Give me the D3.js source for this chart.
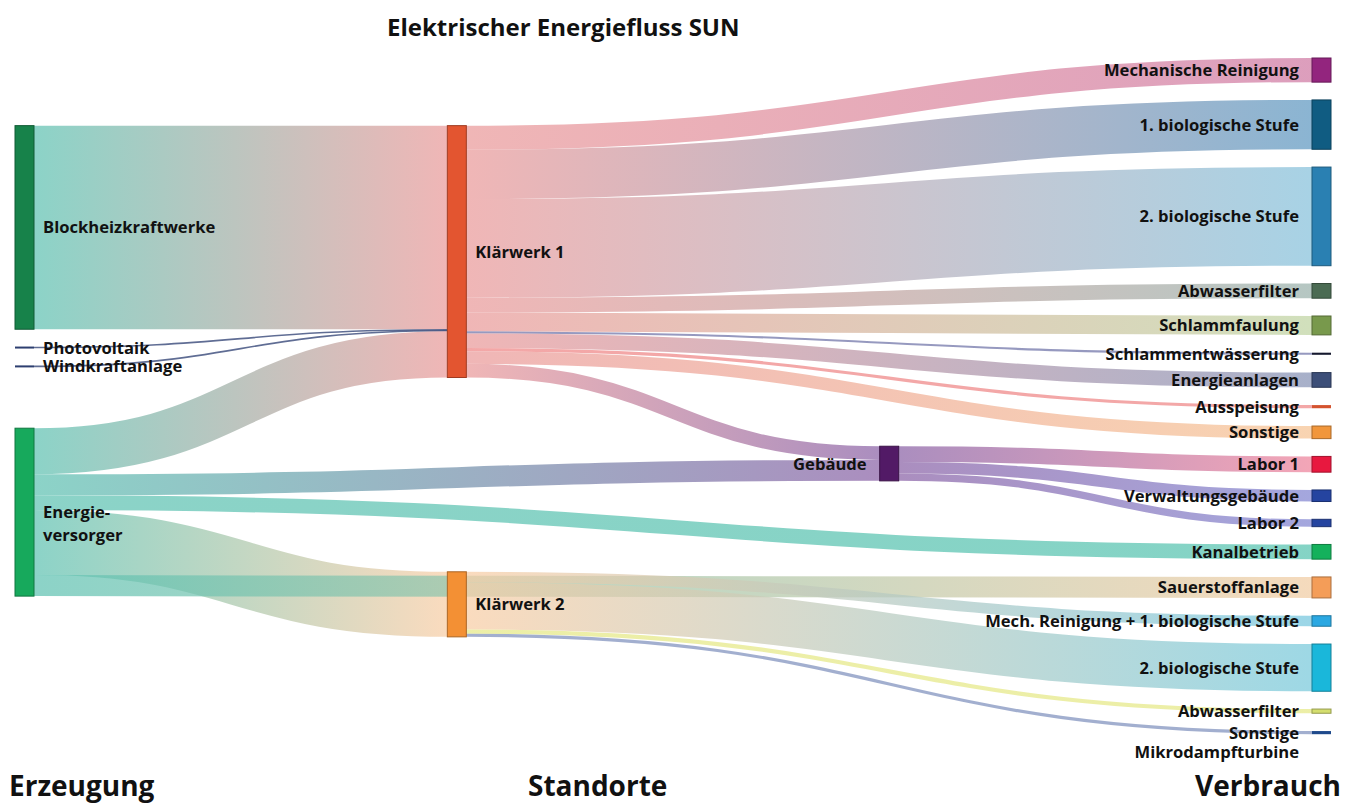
<!DOCTYPE html>
<html>
<head>
<meta charset="utf-8">
<script src="https://cdn.jsdelivr.net/npm/d3@7"></script>
<style>
    body { margin: 0; background: #fff; }
    svg { display: block; font-family: "Open Sans", "Noto Sans", sans-serif; }
    .label { font-size: 16.6px; font-weight: 700; fill: #111; }
    .title { font-size: 24px; font-weight: 700; fill: #111; }
    .coltitle { font-size: 28px; font-weight: 700; fill: #111; }
</style>
</head>
<body>
<svg id="chart"></svg>
<script>
// nodes, listed column by column from top to bottom
const nodeIds = ["bhkw", "pv", "wind", "ev",
    "kw1", "kw2",
    "geb",
    "mech1", "bio1_1", "bio2_1", "abw1", "schlammf", "schlammentw", "energ", "aussp", "sonst1",
    "labor1", "verw", "labor2", "kanal", "sauer",
    "mechbio2", "bio2_2", "abw2", "sonst2", "mikro"];

const nodeLabels = ["Blockheizkraftwerke", "Photovoltaik", "Windkraftanlage", "Energie-\nversorger",
    "Klärwerk 1", "Klärwerk 2",
    "Gebäude",
    "Mechanische Reinigung", "1. biologische Stufe", "2. biologische Stufe", "Abwasserfilter", "Schlammfaulung",
    "Schlammentwässerung", "Energieanlagen", "Ausspeisung", "Sonstige",
    "Labor 1", "Verwaltungsgebäude", "Labor 2", "Kanalbetrieb", "Sauerstoffanlage",
    "Mech. Reinigung + 1. biologische Stufe", "2. biologische Stufe", "Abwasserfilter", "Sonstige", "Mikrodampfturbine"];

// flows (source, target, value) - the order is the stacking order at the nodes
const linkSources = ["bhkw", "pv", "wind", "ev",
    "kw1", "kw1", "kw1", "kw1", "kw1", "kw1", "kw1", "kw1", "kw1", "kw1",
    "ev", "ev", "ev", "ev",
    "geb", "geb", "geb",
    "kw2", "kw2", "kw2", "kw2"];
const linkTargets = ["kw1", "kw1", "kw1", "kw1",
    "mech1", "bio1_1", "bio2_1", "abw1", "schlammf", "schlammentw", "energ", "aussp", "sonst1", "geb",
    "geb", "kanal", "kw2", "sauer",
    "labor1", "verw", "labor2",
    "mechbio2", "bio2_2", "abw2", "sonst2"];
const linkValues = [194, 1, 1, 44,
    23, 47, 94, 14, 18, 2, 14, 3, 12, 13,
    20, 14, 62, 20,
    15, 11, 7,
    10, 45, 4, 3];

const columnTitles = ["Erzeugung", "Standorte", "Verbrauch"];
const chartTitle = "Elektrischer Energiefluss SUN";

// styles
const nodeFill = {
    bhkw: "#17824a", pv: "#2d3f70", wind: "#2d3f70", ev: "#17a95c",
    kw1: "#e35530", kw2: "#f39034", geb: "#521a66",
    mech1: "#93257e", bio1_1: "#105c82", bio2_1: "#2a80b2", abw1: "#4b6b53", schlammf: "#78994c",
    schlammentw: "#15192e", energ: "#3c4e78", aussp: "#d4532f", sonst1: "#f1963b",
    labor1: "#e8183f", verw: "#2544a0", labor2: "#2544a0", kanal: "#14b15c", sauer: "#f49d58",
    mechbio2: "#2ba8e2", bio2_2: "#1ab7da", abw2: "#d4de6e", sonst2: "#1f4a8c", mikro: "none"
};
const linkTint = {
    bhkw: "#5fc2b2", pv: "#2a3c70", wind: "#2a3c70", ev: "#5fc2b2",
    kw1: "#ea9a9a", kw2: "#f8cda5", geb: "#8a62a6",
    mech1: "#cf79a3", bio1_1: "#5e98c1", bio2_1: "#86c1db", abw1: "#99b1ab", schlammf: "#bfd4a2",
    schlammentw: "#7377aa", energ: "#8692b5", aussp: "#ef8a8a", sonst1: "#f6c393",
    labor1: "#ee839b", verw: "#8185d1", labor2: "#8185d1", kanal: "#55c3af", sauer: "#f1cca3",
    mechbio2: "#74c6de", bio2_2: "#78c9db", abw2: "#e6e98a", sonst2: "#8394bf", mikro: "#ccc"
};

const width = 1356, height = 803;
const extent = { x0: 15, x1: 1331, y0: 58, y1: 752 };

const svg = d3.select("#chart")
    .attr("width", width)
    .attr("height", height);

const nodes = nodeIds.map((id, i) => ({ id: id, label: nodeLabels[i] }));
const links = linkSources.map((s, i) => ({ source: s, target: linkTargets[i], value: linkValues[i] }));

sankey(nodes, links, { nodeWidth: 19, nodePadding: 17.8, iterations: 200 });

// thin flows keep the colour of their small end, wide ones blend source -> target
function tints(l) {
    if (l.width < 5) {
        const small = l.source.value < l.target.value ? l.source : l.target;
        return [linkTint[small.id], linkTint[small.id]];
    }
    return [linkTint[l.source.id], linkTint[l.target.id]];
}

const defs = svg.append("defs");
const grads = defs.selectAll("linearGradient")
    .data(links)
    .enter().append("linearGradient")
    .attr("id", (d, i) => "lg" + i)
    .attr("gradientUnits", "userSpaceOnUse")
    .attr("x1", d => d.source.x1)
    .attr("x2", d => d.target.x0);
grads.append("stop").attr("offset", "0%").attr("stop-color", d => tints(d)[0]);
grads.append("stop").attr("offset", "100%").attr("stop-color", d => tints(d)[1]);

const linkPath = d3.linkHorizontal()
    .source(d => [d.source.x1, d.y0])
    .target(d => [d.target.x0, d.y1]);

svg.append("g")
    .attr("fill", "none")
    .selectAll("path")
    .data(links)
    .enter().append("path")
    .attr("d", linkPath)
    .attr("stroke", (d, i) => "url(#lg" + i + ")")
    .attr("stroke-opacity", d => d.width < 5 ? 0.75 : 0.72)
    .attr("stroke-width", d => Math.max(1.6, d.width));

// nodes
svg.append("g")
    .selectAll("rect")
    .data(nodes.filter(d => d.value > 0))
    .enter().append("rect")
    .attr("x", d => d.x0)
    .attr("y", d => (d.y0 + d.y1) / 2 - Math.max(2, d.y1 - d.y0) / 2)
    .attr("width", d => d.x1 - d.x0)
    .attr("height", d => Math.max(2, d.y1 - d.y0))
    .attr("fill", d => nodeFill[d.id])
    .attr("stroke", d => d.y1 - d.y0 > 4 ? d3.color(nodeFill[d.id]).darker(1) : "none")
    .attr("stroke-width", 1);

// node labels
const labels = svg.append("g")
    .selectAll("text")
    .data(nodes)
    .enter().append("text")
    .attr("class", "label")
    .attr("x", d => d.x0 < width / 2 ? d.x1 + 9 : d.x0 - 13)
    .attr("y", d => (d.y0 + d.y1) / 2)
    .attr("text-anchor", d => d.x0 < width / 2 ? "start" : "end");

labels.each(function (d) {
    const t = d3.select(this);
    d.label.split("\n").forEach((line, i) => {
        t.append("tspan")
            .attr("x", t.attr("x"))
            .attr("dy", i === 0 ? "0.36em" : "1.38em")
            .text(line);
    });
});

svg.append("text")
    .attr("class", "title")
    .attr("x", 387)
    .attr("y", 36)
    .text(chartTitle);

svg.append("g")
    .selectAll("text")
    .data(columnTitles)
    .enter().append("text")
    .attr("class", "coltitle")
    .attr("x", (d, i) => [9, 528, 1341][i])
    .attr("y", 796)
    .attr("text-anchor", (d, i) => ["start", "start", "end"][i])
    .text(d => d);


// ---- sankey layout: justified columns, last column packed,
// the others relaxed so that their links run as straight as possible ----
function sankey(nodes, links, opt) {
    const { x0, x1, y0, y1 } = extent;
    const byId = new Map(nodes.map(d => [d.id, d]));

    nodes.forEach((d, i) => { d.index = i; d.sourceLinks = []; d.targetLinks = []; });
    links.forEach(l => {
        l.source = byId.get(l.source);
        l.target = byId.get(l.target);
        l.source.sourceLinks.push(l);
        l.target.targetLinks.push(l);
    });
    nodes.forEach(d => {
        d.value = Math.max(d3.sum(d.sourceLinks, l => l.value), d3.sum(d.targetLinks, l => l.value));
    });

    // depth
    let current = new Set(nodes), next = new Set(), depth = 0;
    while (current.size) {
        for (const n of current) {
            n.depth = depth;
            for (const l of n.sourceLinks) next.add(l.target);
        }
        depth++;
        current = next;
        next = new Set();
    }

    const nCols = d3.max(nodes, d => d.depth) + 1;
    const kx = (x1 - x0 - opt.nodeWidth) / (nCols - 1);
    const columns = d3.range(nCols).map(() => []);
    nodes.forEach(n => {
        n.layer = n.sourceLinks.length ? n.depth : nCols - 1;
        n.x0 = x0 + n.layer * kx;
        n.x1 = n.x0 + opt.nodeWidth;
        columns[n.layer].push(n);
    });

    const py = opt.nodePadding;
    const ky = d3.min(columns, c => (y1 - y0 - (c.length - 1) * py) / d3.sum(c, d => d.value));

    columns.forEach(col => {
        let y = y0;
        col.forEach(n => {
            n.y0 = y;
            n.y1 = y + n.value * ky;
            y = n.y1 + py;
            n.sourceLinks.forEach(l => { l.width = l.value * ky; });
        });
    });

    // offsets of each link inside its source / target node
    nodes.forEach(n => {
        let a = 0, b = 0;
        n.sourceLinks.forEach(l => { l.offS = a; a += l.width; });
        n.targetLinks.forEach(l => { l.offT = b; b += l.width; });
    });

    for (let it = 0; it < opt.iterations; ++it) {
        for (let c = 0; c < nCols - 1; ++c) {
            columns[c].forEach(n => {
                let y = 0, w = 0;
                n.sourceLinks.forEach(l => { y += (l.target.y0 + l.offT - l.offS) * l.value; w += l.value; });
                n.targetLinks.forEach(l => { y += (l.source.y0 + l.offS - l.offT) * l.value; w += l.value; });
                if (!(w > 0)) return;
                const h = n.y1 - n.y0;
                n.y0 = y / w;
                n.y1 = n.y0 + h;
            });
            resolveCollisions(columns[c]);
        }
    }

    links.forEach(l => {
        l.y0 = l.source.y0 + l.offS + l.width / 2;
        l.y1 = l.target.y0 + l.offT + l.width / 2;
    });

    function resolveCollisions(col) {
        let y = y0;
        col.forEach(n => {
            const dy = y - n.y0;
            if (dy > 0) { n.y0 += dy; n.y1 += dy; }
            y = n.y1 + py;
        });
        y = y1;
        for (let i = col.length - 1; i >= 0; --i) {
            const n = col[i];
            const dy = n.y1 - y;
            if (dy > 0) { n.y0 -= dy; n.y1 -= dy; }
            y = n.y0 - py;
        }
    }
}
</script>
</body>
</html>
